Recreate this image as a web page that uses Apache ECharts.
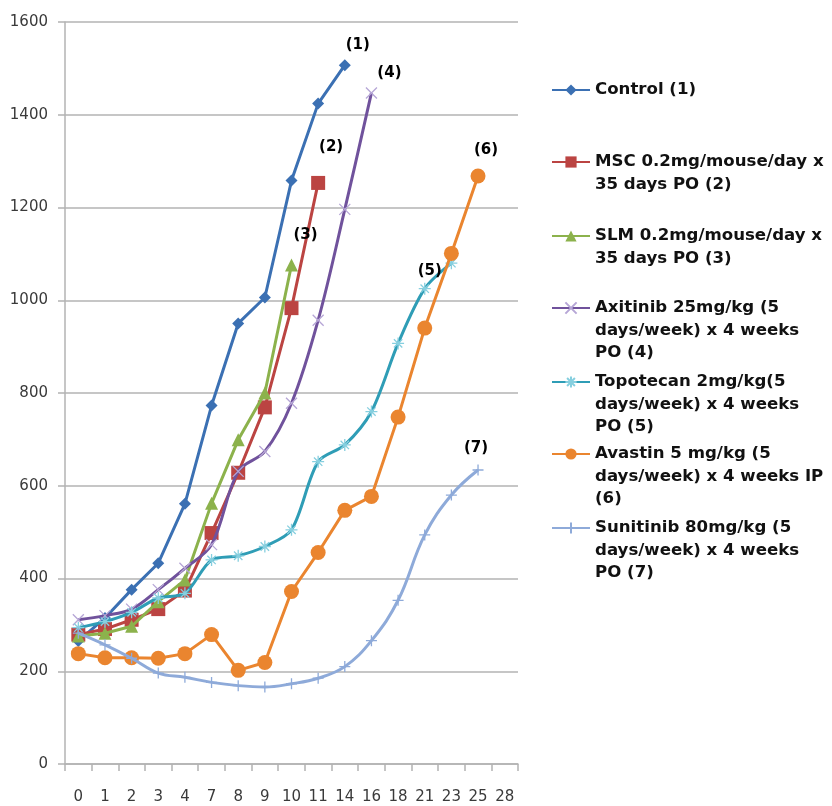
<!DOCTYPE html>
<html>
<head>
<meta charset="utf-8">
<script src="https://cdn.jsdelivr.net/npm/echarts@6/dist/echarts.min.js"></script>
<style>
  html, body { margin: 0; padding: 0; background: #fff; }
  #chart { width: 832px; height: 806px; }
</style>
</head>
<body>
<div id="chart"></div>
<script>
// ---- data ----
const categories = ['0','1','2','3','4','7','8','9','10','11','14','16','18','21','23','25','28'];
const yTicks = [0, 200, 400, 600, 800, 1000, 1200, 1400, 1600];

const seriesNames = [
  'Control (1)',
  'MSC 0.2mg/mouse/day x\n35 days PO (2)',
  'SLM 0.2mg/mouse/day x\n35 days PO (3)',
  'Axitinib 25mg/kg (5\ndays/week) x 4 weeks\nPO (4)',
  'Topotecan 2mg/kg(5\ndays/week) x 4 weeks\nPO (5)',
  'Avastin 5 mg/kg (5\ndays/week) x 4 weeks IP\n(6)',
  'Sunitinib 80mg/kg (5\ndays/week) x 4 weeks\nPO (7)'
];
const endLabels = ['(1)', '(2)', '(3)', '(4)', '(5)', '(6)', '(7)'];

const control   = [265, 315, 376, 433, 561, 773, 950, 1006, 1258, 1424, 1507];
const msc       = [279, 291, 311, 334, 374, 498, 628, 769, 983, 1253];
const slm       = [276, 282, 297, 350, 397, 562, 699, 800, 1076];
const axitinib  = [311, 320, 334, 376, 422, 473, 631, 674, 778, 957, 1196, 1447];
const topotecan = [294, 307, 327, 358, 368, 440, 449, 469, 505, 652, 688, 760, 907, 1025, 1080];
const avastin   = [238, 229, 229, 228, 238, 279, 202, 219, 372, 456, 547, 577, 748, 940, 1101, 1268];
const sunitinib = [282, 257, 228, 196, 187, 176, 169, 166, 173, 185, 210, 266, 353, 494, 580, 634];

const allValues = [control, msc, slm, axitinib, topotecan, avastin, sunitinib];

// ---- styles ----
const colors = ['#3b70b3', '#bb4442', '#8cb24c', '#70529c', '#2f9db6', '#ea852f', '#8eaad9'];
const markerStroke = [null, null, null, '#b6a6d6', '#86cfdf', null, '#8eaad9'];
const symbols = [
  'diamond', 'rect', 'triangle',
  'path://M0,0L10,10M10,0L0,10',
  'path://M5,0L5,10M0,5L10,5M1.5,1.5L8.5,8.5M8.5,1.5L1.5,8.5',
  'circle',
  'path://M5,0L5,10M0,5L10,5'
];
const symbolSizes = [12, 14, 13, 11, 12, 15, 11];
const smooth = [false, false, false, 0.35, 0.3, false, 0.4];
const labelIndex = [10, 9, 8, 11, 13, 15, 15];
const labelOffset = [[13, -20], [13, -36], [14, -30], [18, -20], [5, -18], [8, -26], [-2, -22]];
const legendCenters = [90, 162, 236, 308, 382, 454, 528];

const FONT = 'DejaVu Sans, sans-serif';
const LH = 22.5;

const series = seriesNames.map((name, i) => {
  const vals = allValues[i];
  const data = categories.map((c, j) => {
    if (j >= vals.length) return null;
    if (j === labelIndex[i]) {
      return {
        value: vals[j],
        label: {
          show: true, formatter: endLabels[i], position: 'inside',
          offset: labelOffset[i], color: '#000', fontWeight: 'bold',
          fontSize: 15, fontFamily: FONT
        }
      };
    }
    return vals[j];
  });
  const isPath = markerStroke[i] !== null;
  return {
    name, type: 'line', data,
    symbol: symbols[i], symbolSize: symbolSizes[i], showSymbol: true,
    smooth: smooth[i],
    connectNulls: false,
    lineStyle: { color: colors[i], width: 3 },
    itemStyle: isPath
      ? { color: 'rgba(0,0,0,0)', borderColor: markerStroke[i], borderWidth: 1.3 }
      : { color: colors[i], borderWidth: 0 },
    label: { show: false },
    emphasis: { disabled: true },
    animation: false,
    z: 2 + i
  };
});

const legends = seriesNames.map((name, i) => {
  const n = name.split('\n').length;
  return {
    orient: 'vertical', left: 551, top: legendCenters[i] - (2 * n - 1) * LH / 2,
    padding: 0, itemWidth: 38, itemHeight: 14, itemGap: 0,
    selectedMode: false,
    data: [name],
    formatter: (nm) => '\n'.repeat(n - 1) + nm,
    textStyle: { fontSize: 16.6, lineHeight: LH, color: '#111', fontFamily: FONT, fontWeight: 'bold' }
  };
});

const chart = echarts.init(document.getElementById('chart'), null, { renderer: 'canvas' });
chart.setOption({
  animation: false,
  backgroundColor: '#fff',
  grid: { left: 65, right: 314, top: 22, bottom: 42, containLabel: false },
  legend: legends,
  xAxis: {
    type: 'category', data: categories, boundaryGap: true,
    axisLine: { show: true, lineStyle: { color: '#b3b3b3', width: 1.5 } },
    axisTick: { show: true, length: 7, lineStyle: { color: '#b3b3b3', width: 1.5 } },
    axisLabel: { margin: 26, fontSize: 15, color: '#3a3a3a', fontFamily: FONT, interval: 0 },
    splitLine: { show: false }
  },
  yAxis: {
    type: 'value', min: yTicks[0], max: yTicks[yTicks.length - 1], interval: 200,
    axisLine: { show: true, lineStyle: { color: '#b3b3b3', width: 1.5 } },
    axisTick: { show: true, length: 7, lineStyle: { color: '#b3b3b3', width: 1.5 } },
    axisLabel: { margin: 17, fontSize: 15, color: '#3a3a3a', fontFamily: FONT, formatter: (v) => String(v) },
    splitLine: { show: true, lineStyle: { color: '#b3b3b3', width: 1.5 } }
  },
  series
});
</script>
</body>
</html>
